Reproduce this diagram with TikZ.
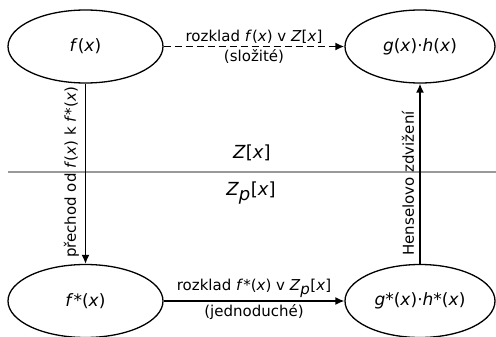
\documentclass[tikz,border=0pt]{standalone}
\usepackage{fontspec}
\setmainfont{DejaVu Sans}
\usetikzlibrary{arrows.meta,shapes.geometric}
\begin{document}
\begin{tikzpicture}[x=1pt,y=-1pt,
  state/.style={draw, ellipse, line width=1.3pt, minimum width=155pt, minimum height=73pt, inner sep=0pt, font=\fontsize{17}{19}\selectfont},
  conn/.style={line width=1.5pt, -{Latex[length=9pt,width=8pt]}},
  lbl/.style={font=\fontsize{15}{17}\selectfont, inner sep=1pt},
  vlbl/.style={font=\fontsize{15}{17}\selectfont, inner sep=0pt, rotate=90},
  ring/.style={font=\fontsize{18}{20}\selectfont}]
\useasboundingbox (0,0) rectangle (496,337);
% dividing line between the two polynomial rings
\coordinate (l0) at (8,172);
\coordinate (l1) at (496,172);
\draw[black!40, line width=2pt] (l0) -- (l1);
\node[ring] (zx) at (252,153) {\textit{Z}[\textit{x}]};
\node[ring] (zpx) at (251,193) {\textit{Z}$_{\textit{p}}$[\textit{x}]};
% states
\node[state] (f) at (85.5,46.5) {\textit{f}(\textit{x})};
\node[state, minimum width=150pt] (gh) at (420,46.5) {\textit{g}(\textit{x})·\textit{h}(\textit{x})};
\node[state] (fs) at (85.5,301) {\textit{f}*(\textit{x})};
\node[state, minimum width=150pt] (ghs) at (420,301) {\textit{g}*(\textit{x})·\textit{h}*(\textit{x})};
% transitions
\draw[conn, line width=1.7pt, dash pattern=on 7pt off 4pt] (f) -- (gh)
  node[lbl, midway, above=1pt] {rozklad \textit{f}(\textit{x}) v \textit{Z}[\textit{x}]}
  node[lbl, midway, below=1pt] {(složité)};
\draw[conn] (fs) -- (ghs)
  node[lbl, midway, above=2pt] {rozklad \textit{f}*(\textit{x}) v \textit{Z}$_{\textit{p}}$[\textit{x}]}
  node[lbl, midway, below=2pt] {(jednoduché)};
\draw[conn] (f) -- (fs);
\node[vlbl] (lp) at (71.5,172.5) {přechod od \textit{f}(\textit{x}) k \textit{f}*(\textit{x})};
\draw[conn] (ghs) -- (gh);
\node[vlbl] (hz) at (408,183.5) {Henselovo zdvižení};
\end{tikzpicture}
\end{document}
